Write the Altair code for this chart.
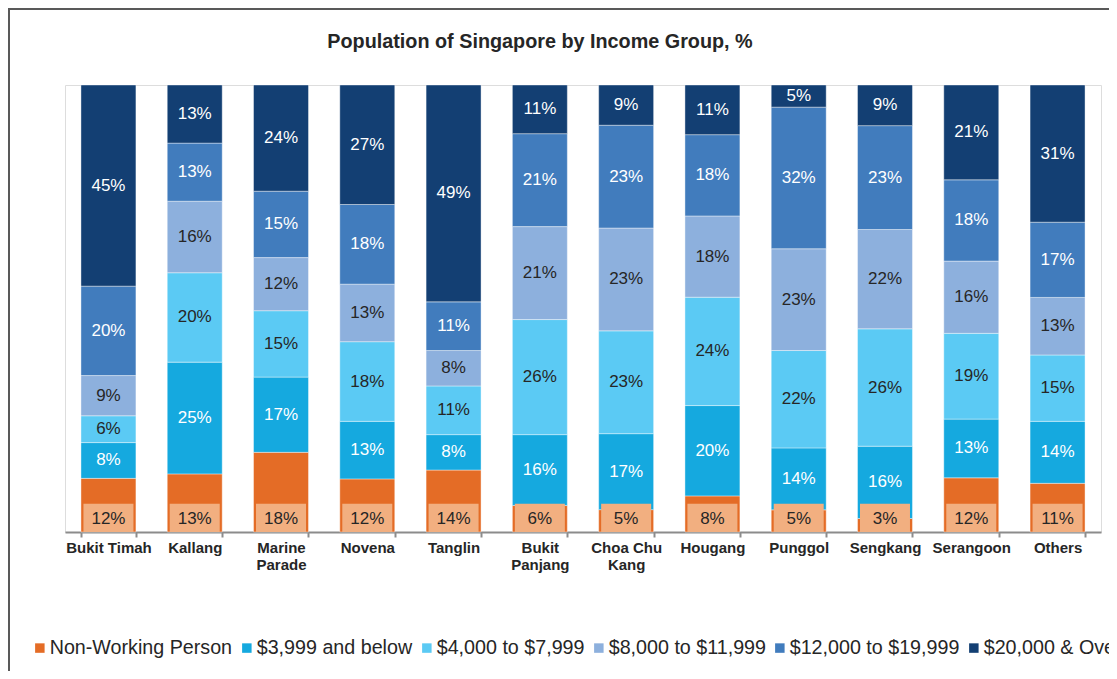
import altair as alt
import pandas as pd

districts = ["Bukit Timah", "Kallang", "Marine Parade", "Novena", "Tanglin",
             "Bukit Panjang", "Choa Chu Kang", "Hougang", "Punggol", "Sengkang",
             "Serangoon", "Others"]
groups = ["Non-Working Person", "$3,999 and below", "$4,000 to $7,999",
          "$8,000 to $11,999", "$12,000 to $19,999", "$20,000 & Over"]

non_working = [12, 13, 18, 12, 14, 6, 5, 8, 5, 3, 12, 11]
below_3999 = [8, 25, 17, 13, 8, 16, 17, 20, 14, 16, 13, 14]
from_4000 = [6, 20, 15, 18, 11, 26, 23, 24, 22, 26, 19, 15]
from_8000 = [9, 16, 12, 13, 8, 21, 23, 18, 23, 22, 16, 13]
from_12000 = [20, 13, 15, 18, 11, 21, 23, 18, 32, 23, 18, 17]
over_20000 = [45, 13, 24, 27, 49, 11, 9, 11, 5, 9, 21, 31]

title_text = ["Population of Singapore by Income Group, %"]

colors = ["#E46C26", "#15A9DF", "#5BCAF4", "#8DB0DD", "#417CBD", "#133F73"]
label_colors = ["#262626", "#FFFFFF", "#262626", "#262626", "#FFFFFF", "#FFFFFF"]

series = [non_working, below_3999, from_4000, from_8000, from_12000, over_20000]
rows = []
for gi, (g, vals) in enumerate(zip(groups, series)):
    for d, v in zip(districts, vals):
        rows.append({"district": d, "group": g, "value": v, "order": gi,
                     "lc": label_colors[gi]})
df = pd.DataFrame(rows)
single = pd.DataFrame({"t": title_text})

FONT = "Liberation Sans"
label_expr = ("datum.label == 'Marine Parade' ? ['Marine', 'Parade'] : "
              "datum.label == 'Bukit Panjang' ? ['Bukit', 'Panjang'] : "
              "datum.label == 'Choa Chu Kang' ? ['Choa Chu', 'Kang'] : datum.label")

x_enc = alt.X(
    "district:N", sort=districts,
    scale=alt.Scale(paddingInner=0.363, paddingOuter=0.185),
    axis=alt.Axis(title=None, labelExpr=label_expr, labelAngle=0, labelFont=FONT,
                  labelFontSize=15, labelFontWeight="bold", labelColor="#262626",
                  labelLineHeight=17, labelPadding=3, tickBand="extent", tickSize=5,
                  tickColor="#8C8C8C", tickWidth=2, domainColor="#8C8C8C",
                  domainWidth=2, grid=False),
)
y_scale = alt.Scale(domain=[0, 1], nice=False, zero=True)

base = alt.Chart(df)

bars = base.mark_bar(stroke="#FFFFFF", strokeWidth=0.8, strokeOpacity=0.5).encode(
    x=x_enc,
    y=alt.Y("value:Q", stack="normalize", scale=y_scale, axis=None),
    color=alt.Color(
        "group:N",
        scale=alt.Scale(domain=groups, range=colors),
        legend=alt.Legend(orient="none", direction="horizontal", columns=6,
                          legendX=-35, legendY=553, title=None, padding=0,
                          symbolType="square", symbolSize=90, symbolStrokeWidth=0,
                          labelFont=FONT, labelFontSize=19.7, labelColor="#262626",
                          labelOffset=0, columnPadding=4, labelLimit=0),
    ),
    order=alt.Order("order:Q", sort="ascending"),
)

seg_labels = base.transform_stack(
    stack="value", groupby=["district"], offset="normalize",
    sort=[alt.SortField("order", "ascending")], as_=["v0", "v1"],
).transform_calculate(
    mid="(datum.v0 + datum.v1) / 2",
    txt="datum.value + '%'",
).transform_filter("datum.order > 0").mark_text(
    font=FONT, fontSize=17, baseline="middle", align="center"
).encode(
    x=x_enc,
    y=alt.Y("mid:Q", scale=y_scale, axis=None),
    text="txt:N",
    fill=alt.Fill("lc:N", scale=None),
)

nw = base.transform_filter("datum.order == 0").transform_calculate(
    txt="datum.value + '%'"
)
nw_box = nw.mark_bar(width=50, color="#F2AF80").encode(
    x=x_enc, y=alt.datum(0.0, scale=y_scale), y2=alt.datum(0.063)
)
nw_text = nw.mark_text(font=FONT, fontSize=17, baseline="middle",
                       color="#262626").encode(
    x=x_enc, y=alt.datum(0.03, scale=y_scale), text="txt:N"
)

title = alt.Chart(single).mark_text(
    font=FONT, fontSize=19.8, fontWeight="bold", color="#262626",
    baseline="alphabetic", align="center",
).encode(x=alt.value(475), y=alt.value(-37.5), text="t:N")

frame_top = alt.Chart(single).mark_rule(color="#595959", strokeWidth=2).encode(
    x=alt.value(-57), x2=alt.value(1044), y=alt.value(-76)
)
frame_left = alt.Chart(single).mark_rule(color="#595959", strokeWidth=2).encode(
    x=alt.value(-56), y=alt.value(-77), y2=alt.value(586)
)

chart = alt.layer(bars, seg_labels, nw_box, nw_text, title, frame_top,
                  frame_left).properties(
    width=1036, height=447,
    autosize=alt.AutoSizeParams(type="none"),
    padding={"left": 57, "top": 77, "right": 8, "bottom": 139},
).configure_view(stroke=None).configure(background="#FFFFFF")

chart.save("out.html", embed_options={"renderer": "svg", "actions": False})
